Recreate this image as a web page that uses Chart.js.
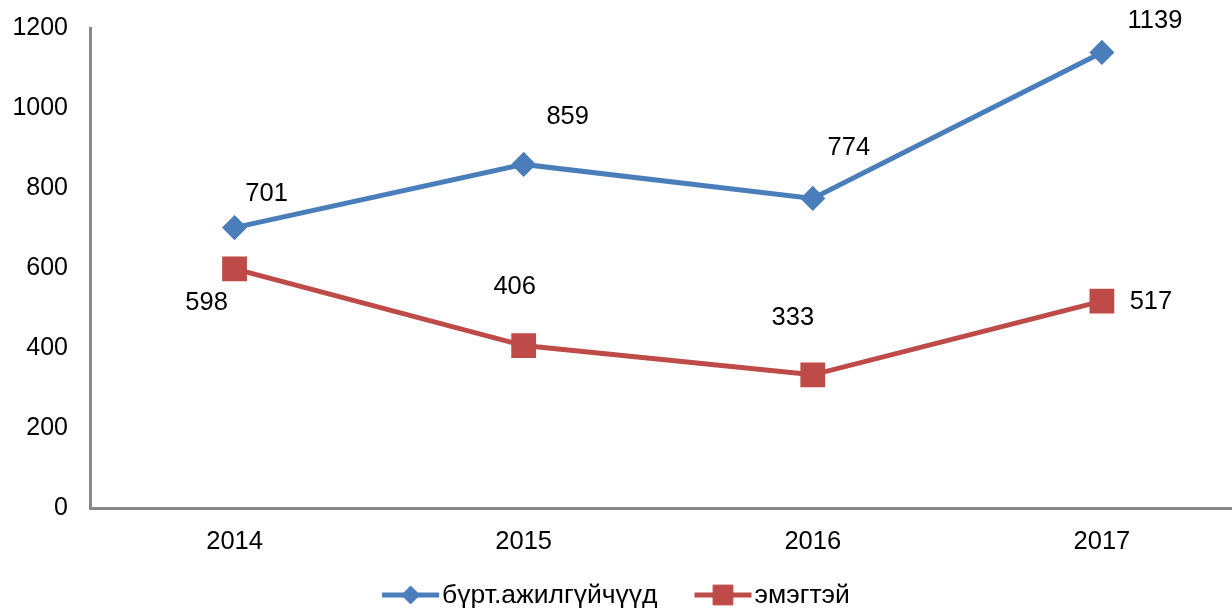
<!DOCTYPE html>
<html>
<head>
<meta charset="utf-8">
<script src="https://cdn.jsdelivr.net/npm/chart.js@4.4.0/dist/chart.umd.min.js"></script>
<style>
html, body { margin: 0; padding: 0; background: #fff; overflow: hidden; }
#wrap { width: 1232px; height: 610px; }
</style>
</head>
<body>
<div id="wrap"><canvas id="lineChart"></canvas></div>
<script>
const years = ['2014', '2015', '2016', '2017'];
const registeredUnemployed = [701, 859, 774, 1139];
const women = [598, 406, 333, 517];
const seriesNames = ['бүрт.ажилгүйчүүд', 'эмэгтэй'];
const yTicks = [0, 200, 400, 600, 800, 1000, 1200];

const FONT = "'Liberation Sans', Arial, sans-serif";
const blue = '#4A7EBB';
const red = '#BE4B48';

// label positions were placed by hand in the original, so keep per-point offsets
const labelOffsets = [
    [[32, -34], [44, -47], [36, -50], [53, -31]],
    [[-28, 34], [-9, -59], [-20, -57], [49, 1]]
];

const valueLabels = {
    id: 'valueLabels',
    afterDatasetsDraw(chart) {
        const ctx = chart.ctx;
        ctx.save();
        ctx.font = '25.5px ' + FONT;
        ctx.fillStyle = '#000';
        ctx.textAlign = 'center';
        ctx.textBaseline = 'middle';
        chart.data.datasets.forEach((ds, di) => {
            chart.getDatasetMeta(di).data.forEach((pt, i) => {
                const off = labelOffsets[di][i];
                ctx.fillText(String(ds.data[i].y), pt.x + off[0], pt.y + off[1]);
            });
        });
        ctx.restore();
    }
};

// Excel-style legend: line segment with the marker in the middle
const lineLegend = {
    id: 'lineLegend',
    afterDraw(chart) {
        const ctx = chart.ctx;
        const lineW = 57, gapText = 3, gapItem = 37;
        ctx.save();
        ctx.font = '26.5px ' + FONT;
        const items = chart.data.datasets.map(ds => ({ ds, w: ctx.measureText(ds.label).width }));
        let total = items.reduce((s, it) => s + lineW + gapText + it.w, 0) + gapItem * (items.length - 1);
        let x = chart.width / 2 - total / 2;
        const y = chart.chartArea.bottom + 87;
        items.forEach(it => {
            const ds = it.ds;
            ctx.strokeStyle = ds.borderColor;
            ctx.lineWidth = ds.borderWidth;
            ctx.beginPath();
            ctx.moveTo(x, y);
            ctx.lineTo(x + lineW, y);
            ctx.stroke();
            ctx.fillStyle = ds.pointBackgroundColor;
            ctx.strokeStyle = ds.pointBackgroundColor;
            ctx.lineWidth = 1;
            Chart.helpers.drawPoint(ctx, { pointStyle: ds.pointStyle, radius: ds.pointRadius, borderWidth: 1 }, x + lineW / 2, y);
            ctx.fillStyle = '#000';
            ctx.textAlign = 'left';
            ctx.textBaseline = 'middle';
            ctx.fillText(ds.label, x + lineW + gapText, y + 1);
            x += lineW + gapText + it.w + gapItem;
        });
        ctx.restore();
    }
};

new Chart(document.getElementById('lineChart').getContext('2d'), {
    type: 'line',
    data: {
        datasets: [{
            label: seriesNames[0],
            data: registeredUnemployed.map((v, i) => ({ x: i, y: v })),
            borderColor: blue,
            backgroundColor: blue,
            pointBackgroundColor: blue,
            pointBorderColor: blue,
            borderWidth: 5,
            pointStyle: 'rectRot',
            pointRadius: 9,
            pointHoverRadius: 9,
            tension: 0
        }, {
            label: seriesNames[1],
            data: women.map((v, i) => ({ x: i, y: v })),
            borderColor: red,
            backgroundColor: red,
            pointBackgroundColor: red,
            pointBorderColor: red,
            borderWidth: 5,
            pointStyle: 'rect',
            pointRadius: 14,
            pointHoverRadius: 14,
            tension: 0
        }]
    },
    options: {
        responsive: true,
        maintainAspectRatio: false,
        animation: false,
        layout: {
            autoPadding: false,
            padding: { top: 28, right: 0, bottom: 57, left: 0 }
        },
        plugins: {
            legend: { display: false },
            tooltip: { enabled: false }
        },
        scales: {
            x: {
                type: 'linear',
                min: -0.5,
                max: 3.45,
                afterBuildTicks: s => { s.ticks = years.map((y, i) => ({ value: i })); },
                afterFit: s => { s.height = 45; s.paddingLeft = 0; s.paddingRight = 0; },
                ticks: {
                    callback: v => years[v],
                    padding: 11,
                    color: '#000',
                    font: { family: FONT, size: 25.5 }
                },
                grid: { display: false },
                border: { display: true, color: '#888', width: 3 }
            },
            y: {
                min: 0,
                max: 1200,
                afterBuildTicks: s => { s.ticks = yTicks.map(v => ({ value: v })); },
                afterFit: s => { s.width = 90; s.paddingTop = 0; s.paddingBottom = 0; },
                ticks: {
                    callback: v => String(v),
                    padding: 14,
                    color: '#000',
                    font: { family: FONT, size: 25 }
                },
                grid: { display: false },
                border: { display: true, color: '#888', width: 3 }
            }
        }
    },
    plugins: [valueLabels, lineLegend]
});
</script>
</body>
</html>
